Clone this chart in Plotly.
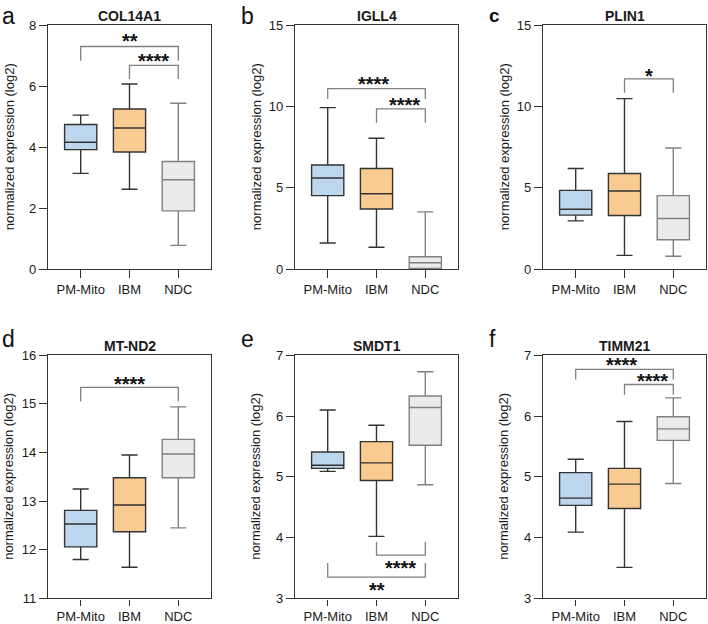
import plotly.graph_objects as go

W, H = 708, 624
FONT = "Liberation Sans, Arial, Helvetica, sans-serif"

groups = ["PM-Mito", "IBM", "NDC"]
genes = ["COL14A1", "IGLL4", "PLIN1", "MT-ND2", "SMDT1", "TIMM21"]
panel_letters = ["a", "b", "c", "d", "e", "f"]

lower = [[3.14, 2.62, 0.78], [1.61, 1.35, 0.00], [2.97, 0.85, 0.79],
         [11.80, 11.64, 12.45], [5.09, 4.02, 4.87], [4.09, 3.51, 4.89]]
q1 = [[3.92, 3.84, 1.91], [4.52, 3.70, 0.04], [3.32, 3.30, 1.81],
      [12.06, 12.37, 13.48], [5.14, 4.94, 5.52], [4.53, 4.48, 5.60]]
median = [[4.16, 4.63, 2.93], [5.60, 4.64, 0.39], [3.68, 4.80, 3.11],
          [12.53, 12.92, 13.97], [5.19, 5.23, 6.14], [4.65, 4.88, 5.79]]
q3 = [[4.74, 5.25, 3.53], [6.40, 6.19, 0.76], [4.84, 5.88, 4.52],
      [12.81, 13.48, 14.27], [5.41, 5.58, 6.33], [5.07, 5.14, 5.99]]
upper = [[5.05, 6.07, 5.44], [9.93, 8.05, 3.52], [6.19, 10.48, 7.45],
         [13.25, 13.95, 14.94], [6.10, 5.85, 6.73], [5.29, 5.91, 6.30]]

y_ranges = [[0, 8], [0, 15], [0, 15], [11, 16], [3, 7], [3, 7]]
y_ticks = [[0, 2, 4, 6, 8], [0, 5, 10, 15], [0, 5, 10, 15],
           [11, 12, 13, 14, 15, 16], [3, 4, 5, 6, 7], [3, 4, 5, 6, 7]]

br_panel = [0, 0, 1, 1, 2, 3, 4, 4, 5, 5]
br_from = [0, 1, 0, 1, 1, 0, 1, 0, 0, 1]
br_to = [2, 2, 2, 2, 2, 2, 2, 2, 2, 2]
br_bar = [7.30, 6.68, 11.10, 9.85, 11.70, 15.34, 3.71, 3.35, 6.77, 6.52]
br_tip = [6.83, 6.23, 10.46, 9.00, 10.85, 15.05, 3.93, 3.58, 6.60, 6.35]
br_label = ["**", "****", "****", "****", "*", "****", "****", "**", "****", "****"]
br_label_y = [7.60, 6.94, 11.60, 10.36, 12.10, 15.50, 3.56, 3.20, 6.90, 6.65]

fills = ["#bdd7ee", "#f9cb92", "#ebebeb"]
lines = ["#333333", "#333333", "#808080"]


def fy(y_img):
    """vertical position on the captured picture -> figure pixel"""
    return y_img * 640 / 624 - 8


col_left = [48, 295, 543]
col_right = [211, 458, 706]
row_top = [fy(26), fy(357.5)]
row_bottom = [fy(271), fy(601.5)]
letter_x = [0, 239, 487]
title_y = [fy(17), fy(348.5)]
letter_y = [9, fy(341.5)]
STAR_SIZE = 20
NUDGE = 3.5

fig = go.Figure()
layout = dict(
    width=W, height=H, margin=dict(l=0, r=0, t=0, b=0),
    paper_bgcolor="white", plot_bgcolor="white", showlegend=False,
    boxmode="overlay", font=dict(family=FONT, size=13, color="#1a1a1a"),
)
annotations = []
shapes = []

for p in range(6):
    r, c = divmod(p, 3)
    n = "" if p == 0 else str(p + 1)
    xa, ya = "x" + n, "y" + n
    for g in range(3):
        fig.add_trace(go.Box(
            x=[g], q1=[q1[p][g]], median=[median[p][g]], q3=[q3[p][g]],
            lowerfence=[lower[p][g]], upperfence=[upper[p][g]],
            width=0.66, whiskerwidth=0.5, fillcolor=fills[g],
            line=dict(color=lines[g], width=1.4), boxpoints=False,
            name=groups[g], xaxis=xa, yaxis=ya, hoverinfo="skip",
        ))
    axis_common = dict(showline=True, mirror=True, linecolor="#333333", linewidth=1.3,
                       ticks="outside", tickwidth=1.3, tickcolor="#333333",
                       showgrid=False, zeroline=False,
                       tickfont=dict(family=FONT, size=13, color="#1a1a1a"))
    layout["xaxis" + n] = dict(
        domain=[col_left[c] / W, col_right[c] / W], anchor=ya, ticklen=8 if r == 0 else 6,
        range=[-0.67, 2.67], tickvals=[0, 1, 2], ticktext=groups, **axis_common)
    layout["yaxis" + n] = dict(
        domain=[1 - row_bottom[r] / H, 1 - row_top[r] / H], anchor=xa, ticklen=8,
        range=y_ranges[p], tickvals=y_ticks[p], **axis_common)
    annotations.append(dict(
        text="<b>" + genes[p] + "</b>", xref="paper", yref="paper",
        x=(col_left[c] + col_right[c]) / 2 / W, y=1 - title_y[r] / H,
        xanchor="center", yanchor="middle", showarrow=False,
        font=dict(family=FONT, size=14, color="#1a1a1a")))
    annotations.append(dict(
        text="normalized expression (log2)", xref="paper", yref="paper",
        x=(col_left[c] - 39) / W, y=1 - (row_top[r] + row_bottom[r]) / 2 / H,
        xanchor="center", yanchor="middle", textangle=-90, showarrow=False,
        font=dict(family=FONT, size=13, color="#1a1a1a")))
    letter_txt = "<b>" + panel_letters[p] + "</b>" if panel_letters[p] == "c" else panel_letters[p]
    annotations.append(dict(
        text=letter_txt, xref="paper", yref="paper",
        x=letter_x[c] / W, y=1 - letter_y[r] / H,
        xanchor="left", yanchor="middle", showarrow=False,
        font=dict(family=FONT, size=19 if panel_letters[p] == "c" else 23, color="#111111")))

for i in range(len(br_panel)):
    p = br_panel[i]
    n = "" if p == 0 else str(p + 1)
    xa, ya = "x" + n, "y" + n
    x0, x1 = br_from[i], br_to[i]
    path = f"M {x0},{br_tip[i]} L {x0},{br_bar[i]} L {x1},{br_bar[i]} L {x1},{br_tip[i]}"
    shapes.append(dict(type="path", path=path, xref=xa, yref=ya,
                       line=dict(color="#808080", width=1.3)))
    # nudge stacked four-star labels apart so their text boxes do not collide
    same = [j for j in range(len(br_panel)) if br_panel[j] == p and j != i]
    xshift = 0
    if same and len(br_label[i]) == 4 and all(len(br_label[j]) == 4 for j in same):
        xshift = -NUDGE if x0 == 0 else NUDGE
    annotations.append(dict(
        text="<b>" + br_label[i] + "</b>", xref=xa, yref=ya,
        x=(x0 + x1) / 2, y=br_label_y[i], xanchor="center", yanchor="middle",
        showarrow=False, yshift=-4, xshift=xshift,
        font=dict(family=FONT, size=STAR_SIZE, color="#111111")))

layout["annotations"] = annotations
layout["shapes"] = shapes
fig.update_layout(**layout)
fig.write_html("out.html")
